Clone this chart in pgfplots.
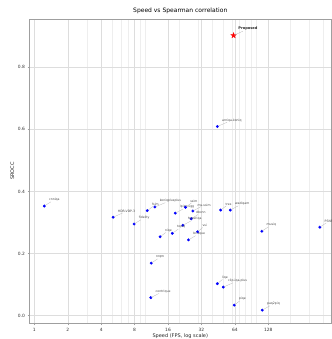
\documentclass[border=0pt]{standalone}
\usepackage{fontspec}
\setmainfont{DejaVu Sans}
\usepackage{pgfplots}
\usepackage{pgfplotstable}
\pgfplotsset{compat=1.18}
\usetikzlibrary{shapes.geometric}
\definecolor{gridmaj}{HTML}{DDDDDD}
\definecolor{gridmin}{HTML}{EEEEEE}
\definecolor{lbl}{HTML}{444444}
\pgfdeclareplotmark{fstar}{\node[star,star points=5,star point ratio=2.4,fill=red,draw=red,inner sep=0pt,minimum size=5.5pt]{};}
\pgfplotstableread{
x y name
1.23 0.353 cnniqa
5.13 0.317 HDR-VDP-3
7.92 0.295 fidelity
10.4 0.338 fsim
12.2 0.350 koniqplusplus
18.6 0.330 lpips-vgg
23.0 0.349 ssim
26.8 0.337 ms-ssim
25.9 0.312 dbcnn
21.8 0.291 hyperiqa
17.5 0.265 topiq
13.6 0.254 niqe
29.6 0.270 vsi
24.5 0.244 brisque
47.7 0.340 tres
58.2 0.340 wadiqam
112 0.272 musiq
373 0.285 PSNR
11.3 0.169 nrqm
11.2 0.058 contrique
44.5 0.103 liqe
50.4 0.092 clip-iqa-plus
63.2 0.034 piqe
113 0.018 paq2piq
44.5 0.609 arniqa-koniq
}\others
\pgfplotstableread{
x y name
62.3 0.902 Proposed
}\proposed
\begin{document}
\begin{tikzpicture}
\begin{axis}[
  scale only axis, width=301.5pt, height=304.3pt,
  xmode=log,
  xmin=0.905, xmax=470, ymin=-0.0245, ymax=0.955,
  xtick={1,2,4,8,16,32,64,128},
  xticklabels={1,2,4,8,16,32,64,128},
  minor xtick={3,5,6,7,9,10,20,30,40,50,60,70,80,90,100,200,300,400},
  ytick={0,0.2,0.4,0.6,0.8},
  yticklabels={0.0,0.2,0.4,0.6,0.8},
  xmajorgrids, xminorgrids, ymajorgrids,
  major grid style={draw=gridmaj, line width=0.4pt},
  minor grid style={draw=gridmin, line width=0.35pt},
  axis line style={draw=gray!75, line width=0.5pt},
  tick style={draw=gray!75, line width=0.4pt},
  major tick length=2pt, minor tick length=0pt,
  tick align=outside, xtick pos=bottom, ytick pos=left,
  /pgf/number format/assume math mode=true,
  tick label style={font=\fontsize{4.4}{5}\selectfont, text=black!80},
  xticklabel style={yshift=1pt},
  yticklabel style={xshift=1pt},
  title={Speed vs Spearman correlation},
  title style={font=\fontsize{6}{7}\selectfont, at={(0.5,1)}, anchor=south, yshift=-4.5pt},
  xlabel={Speed (FPS, log scale)},
  ylabel={SROCC},
  label style={font=\fontsize{5}{6}\selectfont, text=black!85},
  xlabel style={yshift=4pt},
  ylabel style={yshift=-3pt},
  clip=false,
]
\addplot[only marks, mark=*, mark size=1.25pt, color=blue,
  point meta=explicit symbolic,
  nodes near coords={},
  every node near coord/.style={inner sep=0pt, anchor=center,
    pin={[font=\fontsize{3.1}{3.5}\selectfont, text=lbl, inner sep=0.4pt,
          pin distance=5pt, pin edge={draw=gray!55, line width=0.3pt}]45:\pgfplotspointmeta}}
] table[x=x, y=y, meta=name] {\others};
\addplot[only marks, mark=fstar, color=red,
  point meta=explicit symbolic,
  nodes near coords={},
  every node near coord/.style={inner sep=0pt, anchor=center,
    pin={[font=\bfseries\fontsize{3.6}{4}\selectfont, text=black!85, inner sep=0.4pt,
          pin distance=5pt, pin edge={draw=gray!55, line width=0.3pt}]45:\pgfplotspointmeta}}
] table[x=x, y=y, meta=name] {\proposed};
\end{axis}
\pgfresetboundingbox
\path ([shift={(-29.5pt,-15.7pt)}]current axis.south west) rectangle ([shift={(0.3pt,19pt)}]current axis.north east);
\end{tikzpicture}
\end{document}
